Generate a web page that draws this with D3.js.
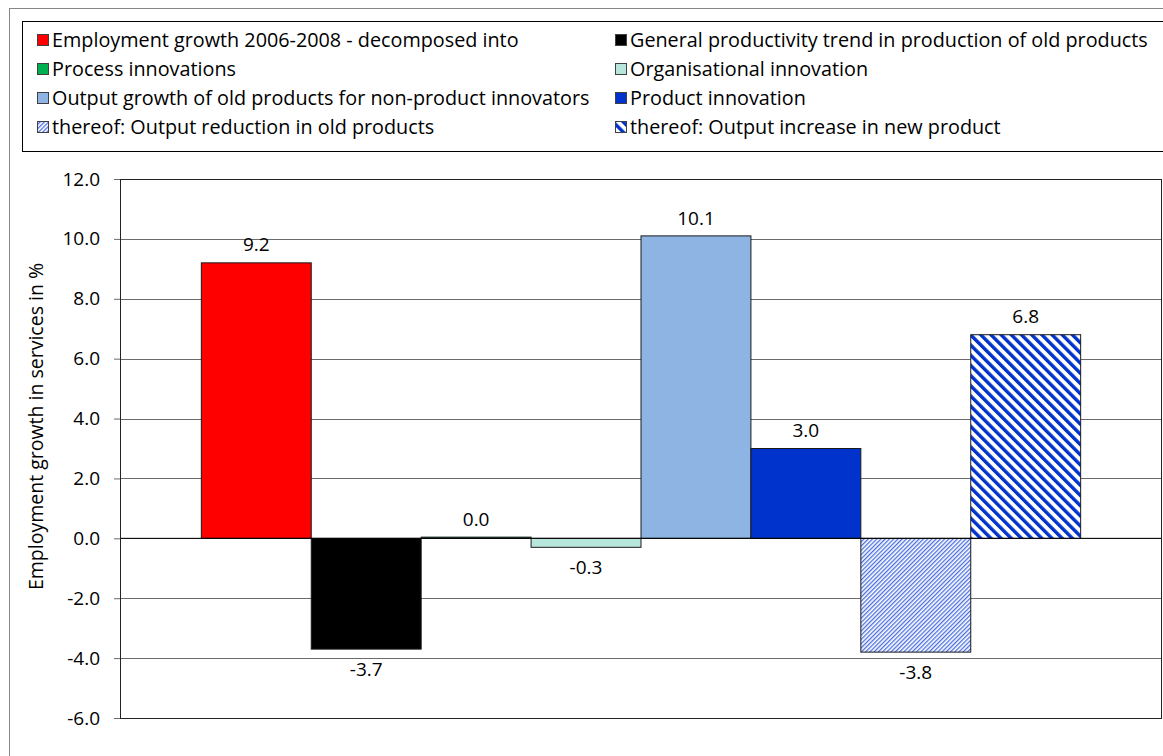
<!DOCTYPE html>
<html>
<head>
<meta charset="utf-8">
<script src="https://cdn.jsdelivr.net/npm/d3@7"></script>
<style>
  body { margin: 0; background: #fff; }
  text { font-family: "Open Sans", sans-serif; }
</style>
</head>
<body>
<div id="chart"></div>
<script>
// series names, in the order of the legend and the bars
let seriesNames = [
    "Employment growth 2006-2008 - decomposed into",
    "General productivity trend in production of old products",
    "Process innovations",
    "Organisational innovation",
    "Output growth of old products for non-product innovators",
    "Product innovation",
    "thereof: Output reduction in old products",
    "thereof: Output increase in new product"
];
let seriesValues = [9.2, -3.7, 0.04, -0.3, 10.1, 3.0, -3.8, 6.8];
let valueLabels = ["9.2", "-3.7", "0.0", "-0.3", "10.1", "3.0", "-3.8", "6.8"];
let yTicks = [-6, -4, -2, 0, 2, 4, 6, 8, 10, 12];
let fills = ["#ff0000", "#000000", "#00b050", "#b7e6dd", "#8db4e2", "#0033cc", "url(#hatchUp)", "url(#hatchDown)"];

let W = 1163, H = 756;
let margin = { top: 179, right: 1, bottom: 38, left: 120 },
    width = W - margin.left - margin.right,
    height = H - margin.top - margin.bottom;

let svg = d3.select("#chart")
    .append("svg")
    .attr("width", W)
    .attr("height", H);

// hatch patterns
let defs = svg.append("defs");
let p1 = defs.append("pattern")
    .attr("id", "hatchUp")
    .attr("patternUnits", "userSpaceOnUse")
    .attr("patternTransform", "rotate(45)")
    .attr("width", 3).attr("height", 3);
p1.append("rect").attr("width", 3).attr("height", 3).attr("fill", "#fff");
p1.append("rect").attr("width", 1.3).attr("height", 3).attr("fill", "#4a6ee0");

let p2 = defs.append("pattern")
    .attr("id", "hatchDown")
    .attr("patternUnits", "userSpaceOnUse")
    .attr("patternTransform", "rotate(-45)")
    .attr("width", 7.2).attr("height", 7.2);
p2.append("rect").attr("width", 7.2).attr("height", 7.2).attr("fill", "#fff");
p2.append("rect").attr("width", 3.4).attr("height", 7.2).attr("fill", "#0033cc");

// outer frame and legend box
svg.append("rect")
    .attr("x", 9.5).attr("y", 8.5)
    .attr("width", W).attr("height", H)
    .attr("fill", "none").attr("stroke", "#868686");
svg.append("rect")
    .attr("x", 22.5).attr("y", 21.5)
    .attr("width", W).attr("height", 130)
    .attr("fill", "#fff").attr("stroke", "#000");

// legend
let legend = svg.append("g");
seriesNames.forEach(function (name, i) {
    let col = i % 2, row = Math.floor(i / 2);
    let lx = col === 0 ? 37 : 615,
        ly = 40 + row * 29;
    legend.append("rect")
        .attr("x", lx + 0.5).attr("y", ly - 5.5)
        .attr("width", 11).attr("height", 11)
        .attr("fill", fills[i])
        .attr("stroke", "#404040");
    legend.append("text")
        .attr("x", lx + 15).attr("y", ly)
        .attr("dy", "0.35em")
        .style("font-size", "19.8px")
        .text(name);
});

let g = svg.append("g")
    .attr("transform", "translate(" + margin.left + "," + margin.top + ")");

let y = d3.scaleLinear()
    .domain([-6, 12])
    .range([height, 0]);

let x = d3.scaleBand()
    .domain(seriesNames)
    .range([0, width])
    .paddingInner(0)
    .paddingOuter(0.74);

// gridlines
g.selectAll(".grid")
    .data(yTicks)
    .enter()
    .append("line")
    .attr("x1", 0).attr("x2", width)
    .attr("y1", d => Math.round(y(d)) + 0.5)
    .attr("y2", d => Math.round(y(d)) + 0.5)
    .attr("stroke", "#6b6b6b");

// y axis, plain hyphen for minus like the original
let fmt = d3.format(".1f");
let yAxis = g.append("g")
    .call(d3.axisLeft(y).tickValues(yTicks).tickSize(6).tickPadding(14)
        .tickFormat(d => fmt(d).replace("\u2212", "-")));
yAxis.select(".domain").remove();
yAxis.selectAll(".tick line").attr("stroke", "#6b6b6b");
yAxis.selectAll("text")
    .style("font-size", "19px")
    .style("font-family", "'Open Sans', sans-serif")
    .attr("fill", "#000");

g.append("text")
    .attr("transform", "rotate(-90)")
    .attr("x", -(height / 2) + 22)
    .attr("y", -84)
    .attr("dy", "0.35em")
    .style("text-anchor", "middle")
    .style("font-size", "19.5px")
    .text("Employment growth in services in %");

// bars
g.selectAll(".bar")
    .data(seriesValues)
    .enter()
    .append("rect")
    .attr("x", (d, i) => x(seriesNames[i]))
    .attr("width", x.bandwidth())
    .attr("y", d => y(Math.max(0, d)))
    .attr("height", d => Math.abs(y(d) - y(0)))
    .attr("fill", (d, i) => fills[i])
    .attr("stroke", "#1a1a1a")
    .attr("stroke-width", 1);

// zero line
g.append("line")
    .attr("x1", 0).attr("x2", width)
    .attr("y1", y(0)).attr("y2", y(0))
    .attr("stroke", "#000");

// value labels
g.selectAll(".val")
    .data(seriesValues)
    .enter()
    .append("text")
    .attr("x", (d, i) => x(seriesNames[i]) + x.bandwidth() / 2)
    .attr("y", d => d >= 0 ? y(d) - 18 : y(d) + 20)
    .attr("dy", "0.35em")
    .style("text-anchor", "middle")
    .style("font-size", "19px")
    .text((d, i) => valueLabels[i]);

// plot border
g.append("rect")
    .attr("x", 0.5).attr("y", 0.5)
    .attr("width", width - 1).attr("height", height)
    .attr("fill", "none")
    .attr("stroke", "#222");
</script>
</body>
</html>
